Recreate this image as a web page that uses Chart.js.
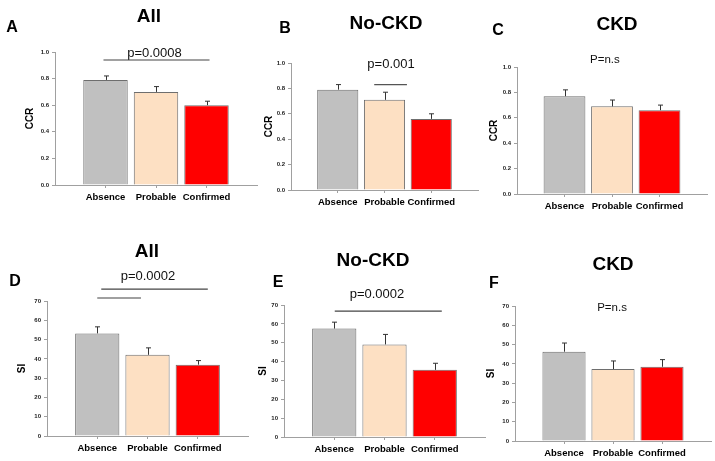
<!DOCTYPE html>
<html>
<head>
<meta charset="utf-8">
<script src="https://cdn.jsdelivr.net/npm/chart.js@4"></script>
<style>
  html, body { margin:0; padding:0; background:#fff; }
  #wrap { position:relative; width:715px; height:461px; }
  #wrap canvas { position:absolute; left:0; top:0; }
</style>
</head>
<body>
<div id="wrap"></div>
<script>
// ---- data ----
const categories = ['Absence', 'Probable', 'Confirmed'];
const ccrAll      = [0.79, 0.70, 0.60];
const ccrAllErr   = [0.03, 0.04, 0.03];
const ccrNoCkd    = [0.79, 0.71, 0.56];
const ccrNoCkdErr = [0.04, 0.06, 0.04];
const ccrCkd      = [0.77, 0.69, 0.66];
const ccrCkdErr   = [0.05, 0.05, 0.04];
const siAll       = [53.2, 42.1, 37.0];
const siAllErr    = [3.4, 3.6, 2.1];
const siNoCkd     = [57.5, 49.1, 35.6];
const siNoCkdErr  = [3.4, 5.3, 3.5];
const siCkd       = [46.3, 37.3, 38.5];
const siCkdErr    = [4.5, 4.2, 3.7];
const ccrTicks = [0, 0.2, 0.4, 0.6, 0.8, 1.0];
const siTicks  = [0, 10, 20, 30, 40, 50, 60, 70];
const barColors = ['#c0c0c0', '#fde0c3', '#ff0000'];

const FONT = "'Liberation Sans', Arial, sans-serif";

// ---- panel layout / annotations ----
const panels = [
  { letter:'A', title:'All', values:ccrAll, errs:ccrAllErr, yTitle:'CCR', yTicks:ccrTicks, dec:1,
    axisX:55, top:52, bottom:185, right:257, yw:31,
    titlePos:[149,17], letterPos:[12,28],
    texts:[{t:'p=0.0008', x:0.97, y:0.99, size:13}],
    lines:[{x0:-0.04, x1:2.06, y:0.94, c:'#444'}] },
  { letter:'B', title:'No-CKD', values:ccrNoCkd, errs:ccrNoCkdErr, yTitle:'CCR', yTicks:ccrTicks, dec:1,
    axisX:291, top:63, bottom:190, right:478, yw:28,
    titlePos:[386,24], letterPos:[285,29],
    texts:[{t:'p=0.001', x:1.14, y:0.99, size:13}],
    lines:[{x0:0.78, x1:1.48, y:0.83, c:'#555'}] },
  { letter:'C', title:'CKD', values:ccrCkd, errs:ccrCkdErr, yTitle:'CCR', yTicks:ccrTicks, dec:1,
    axisX:517, top:67, bottom:194, right:707, yw:29,
    titlePos:[617,25], letterPos:[498,31],
    texts:[{t:'P=n.s', x:0.85, y:1.06, size:11.5}],
    lines:[] },
  { letter:'D', title:'All', values:siAll, errs:siAllErr, yTitle:'SI', yTicks:siTicks, dec:0,
    axisX:47, top:301, bottom:436, right:248, yw:31,
    titlePos:[147,252], letterPos:[15,282],
    texts:[{t:'p=0.0002', x:1.01, y:82.9, size:13}],
    lines:[{x0:0.08, x1:2.2, y:76.2, c:'#444'}, {x0:0.0, x1:0.87, y:71.5, c:'#a0a0a0', w:2}] },
  { letter:'E', title:'No-CKD', values:siNoCkd, errs:siNoCkdErr, yTitle:'SI', yTicks:siTicks, dec:0,
    axisX:284, top:305, bottom:437, right:485, yw:27,
    titlePos:[373,261], letterPos:[278,283],
    texts:[{t:'p=0.0002', x:0.85, y:75.4, size:13}],
    lines:[{x0:0.01, x1:2.14, y:66.8, c:'#444'}] },
  { letter:'F', title:'CKD', values:siCkd, errs:siCkdErr, yTitle:'SI', yTicks:siTicks, dec:0,
    axisX:515, top:306, bottom:441, right:711, yw:30,
    titlePos:[613,265], letterPos:[494,284],
    texts:[{t:'P=n.s', x:0.98, y:69.3, size:11.5}],
    lines:[] }
];

const XH = 25;

const errorBarPlugin = {
  id: 'errbars',
  afterDatasetsDraw(chart, args, opts) {
    const ctx = chart.ctx;
    const meta = chart.getDatasetMeta(0);
    const ys = chart.scales.y;
    const vals = chart.data.datasets[0].data;
    ctx.save();
    ctx.strokeStyle = '#333';
    ctx.lineWidth = 1;
    meta.data.forEach((bar, i) => {
      const x = Math.round(bar.x) + 0.5;
      const yTop = ys.getPixelForValue(vals[i].y + opts.errs[i]);
      const yBar = ys.getPixelForValue(vals[i].y);
      ctx.beginPath();
      ctx.moveTo(x, yBar);
      ctx.lineTo(x, yTop);
      ctx.moveTo(x - 2.5, yTop);
      ctx.lineTo(x + 2.5, yTop);
      ctx.stroke();
    });
    ctx.restore();
  }
};

const annotPlugin = {
  id: 'annot',
  afterDraw(chart, args, opts) {
    const ctx = chart.ctx;
    const xs = chart.scales.x, ys = chart.scales.y;
    const p = opts.panel;
    ctx.save();
    ctx.fillStyle = '#000';
    ctx.textAlign = 'center';
    ctx.textBaseline = 'middle';
    ctx.font = 'bold 19px ' + FONT;
    ctx.fillText(p.title, p.titlePos[0], p.titlePos[1]);
    ctx.font = 'bold 16px ' + FONT;
    ctx.fillText(p.letter, p.letterPos[0], p.letterPos[1]);
    p.texts.forEach(t => {
      ctx.font = t.size + 'px ' + FONT;
      ctx.fillStyle = '#111';
      ctx.fillText(t.t, xs.getPixelForValue(t.x), ys.getPixelForValue(t.y));
    });
    p.lines.forEach(l => {
      ctx.strokeStyle = l.c;
      ctx.lineWidth = l.w || 1.2;
      const y = ys.getPixelForValue(l.y);
      ctx.beginPath();
      ctx.moveTo(xs.getPixelForValue(l.x0), y);
      ctx.lineTo(xs.getPixelForValue(l.x1), y);
      ctx.stroke();
    });
    ctx.restore();
  }
};

const wrap = document.getElementById('wrap');
panels.forEach(p => {
  const cv = document.createElement('canvas');
  cv.width = 715; cv.height = 461;
  cv.style.width = '715px'; cv.style.height = '461px';
  wrap.appendChild(cv);
  const yMax = p.yTicks[p.yTicks.length - 1];
  new Chart(cv, {
    type: 'bar',
    data: {
      datasets: [{
        data: p.values.map((v, i) => ({ x: i, y: v })),
        backgroundColor: barColors,
        borderColor: '#6e6e6e',
        borderWidth: 1,
        categoryPercentage: 1,
        barPercentage: 0.88
      }]
    },
    options: {
      responsive: false,
      animation: false,
      events: [],
      layout: {
        autoPadding: false,
        padding: { left: p.axisX - p.yw, top: p.top, right: 715 - p.right, bottom: 461 - p.bottom - XH }
      },
      plugins: {
        legend: { display: false },
        tooltip: { enabled: false },
        errbars: { errs: p.errs },
        annot: { panel: p }
      },
      scales: {
        x: {
          type: 'linear', min: -1, max: 3, offset: false,
          afterBuildTicks: s => { s.ticks = categories.map((c, i) => ({ value: i })); },
          afterFit: s => { s.height = XH; },
          ticks: {
            callback: v => categories[v],
            font: { family: FONT, size: 9.5, weight: 'bold' },
            color: '#000', padding: 4, autoSkip: false, maxRotation: 0
          },
          grid: { display: true, drawOnChartArea: false, drawTicks: true, tickLength: 3, color: '#a0a0a0', offset: false },
          border: { display: true, color: '#a0a0a0', width: 1 }
        },
        y: {
          min: 0, max: yMax,
          afterBuildTicks: s => { s.ticks = p.yTicks.map(v => ({ value: v })); },
          afterFit: s => { s.width = p.yw; },
          ticks: {
            callback: v => v.toFixed(p.dec),
            font: { family: FONT, size: 6, weight: 'bold' },
            color: '#222', padding: 3
          },
          grid: { display: true, drawOnChartArea: false, drawTicks: true, tickLength: 3, color: '#a0a0a0' },
          border: { display: true, color: '#a0a0a0', width: 1 },
          title: { display: true, text: p.yTitle, font: { family: FONT, size: 10, weight: 'bold' }, color: '#000', padding: 0 }
        }
      }
    },
    plugins: [errorBarPlugin, annotPlugin]
  });
});
</script>
</body>
</html>
